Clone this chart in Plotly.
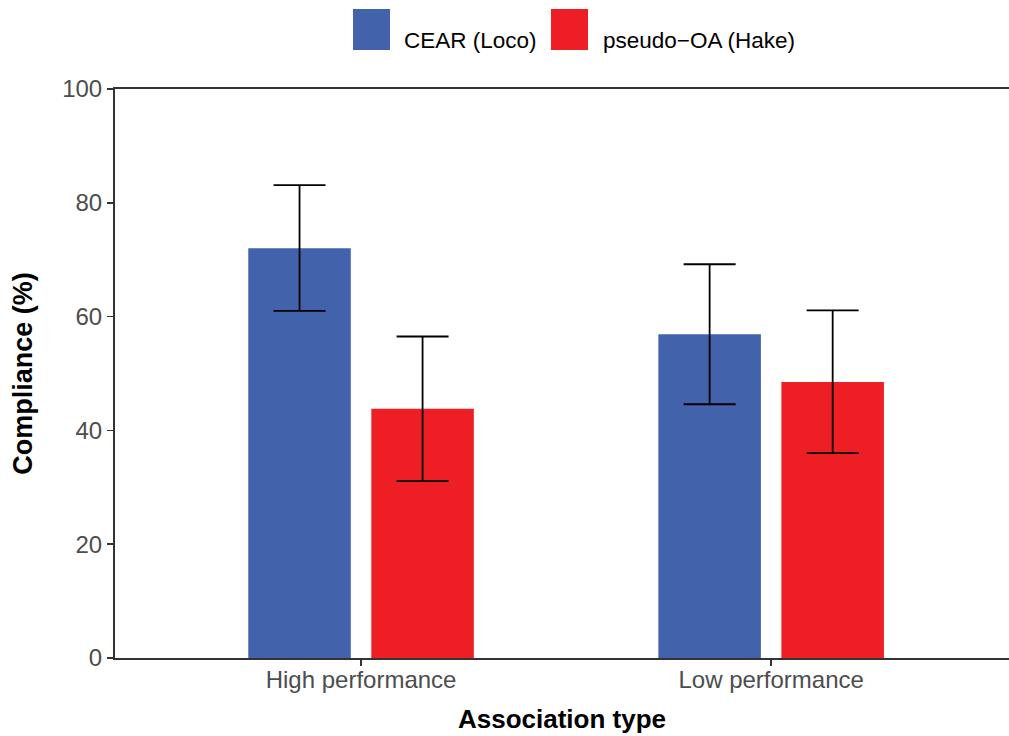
import plotly.graph_objects as go

categories = ["High performance", "Low performance"]
series_names = ["CEAR (Loco)", "pseudo\u2212OA (Hake)"]
cear_mean = [72.0, 56.9]
cear_upper = [83.1, 69.2]
cear_lower = [61.0, 44.6]
pseudo_mean = [43.8, 48.5]
pseudo_upper = [56.5, 61.1]
pseudo_lower = [31.1, 36.0]
y_ticks = [0, 20, 40, 60, 80, 100]

BLUE = "#4262AC"
RED = "#ED1F24"
FONT = "Liberation Sans, Arial, Helvetica, sans-serif"

def err(mean, upper, lower):
    return dict(
        type="data", symmetric=False,
        array=[u - m for u, m in zip(upper, mean)],
        arrayminus=[m - l for m, l in zip(mean, lower)],
        color="black", thickness=1.8, width=26,
    )

fig = go.Figure()
fig.add_trace(go.Bar(
    x=categories, y=cear_mean, name=series_names[0],
    marker=dict(color=BLUE, line=dict(width=0)),
    width=0.25, offset=-0.275,
    error_y=err(cear_mean, cear_upper, cear_lower),
    showlegend=False,
))
fig.add_trace(go.Bar(
    x=categories, y=pseudo_mean, name=series_names[1],
    marker=dict(color=RED, line=dict(width=0)),
    width=0.25, offset=0.025,
    error_y=err(pseudo_mean, pseudo_upper, pseudo_lower),
    showlegend=False,
))

# legend drawn as swatches + text (ggplot-style large keys)
def px2x(px):
    return (px - 115) / (1009 - 115)

def py2y(py):
    return (658 - py) / (658 - 89)

shapes = []
annotations = []
for name, col, x0, x1, tx in [
    (series_names[0], BLUE, 353, 390, 402),
    (series_names[1], RED, 551, 588, 601),
]:
    shapes.append(dict(type="rect", xref="paper", yref="paper",
                       x0=px2x(x0), x1=px2x(x1), y0=py2y(50), y1=py2y(9),
                       fillcolor=col, line=dict(width=0)))
    annotations.append(dict(text=name, xref="paper", yref="paper",
                            x=px2x(tx), y=py2y(41), xanchor="left", yanchor="middle",
                            showarrow=False, font=dict(family=FONT, size=22.5, color="black")))

fig.update_layout(
    width=1009, height=736,
    margin=dict(l=115, r=0, t=89, b=78),
    paper_bgcolor="white", plot_bgcolor="white",
    font=dict(family=FONT),
    shapes=shapes, annotations=annotations,
    hovermode=False,
    xaxis=dict(
        range=[-0.6, 1.58], showgrid=False, zeroline=False, fixedrange=True,
        showline=True, linecolor="#333333", linewidth=2, mirror=True,
        ticks="outside", ticklen=6, tickwidth=1.6, tickcolor="#333333",
        ticklabelstandoff=-7,
        tickfont=dict(family=FONT, size=24, color="#4d4d4d"),
        title=dict(text="<b>Association type</b>", font=dict(family=FONT, size=26, color="black"), standoff=18),
    ),
    yaxis=dict(
        range=[0, 100], tickvals=y_ticks, showgrid=False, zeroline=False, fixedrange=True,
        showline=True, linecolor="#333333", linewidth=2,
        ticks="outside", ticklen=6, tickwidth=1.6, tickcolor="#333333",
        tickfont=dict(family=FONT, size=24, color="#4d4d4d"),
        title=dict(text="<b>Compliance (%)</b>", font=dict(family=FONT, size=27, color="black"), standoff=22),
    ),
)

fig.write_html(
    "out.html",
    config={"displayModeBar": False, "staticPlot": True},
    post_script="document.body.style.margin='0';document.body.style.overflow='hidden';",
)
